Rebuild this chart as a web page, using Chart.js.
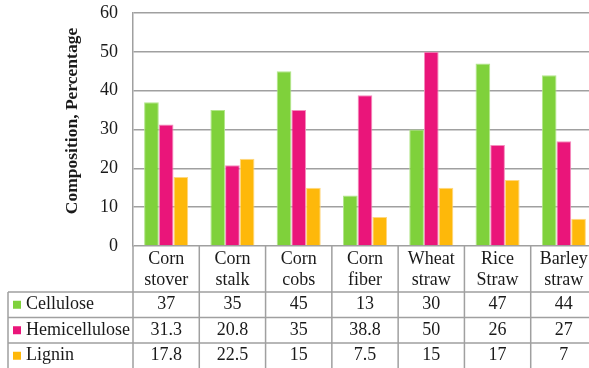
<!DOCTYPE html>
<html>
<head>
<meta charset="utf-8">
<script src="https://cdn.jsdelivr.net/npm/chart.js@4/dist/chart.umd.min.js"></script>
<style>
  html, body { margin: 0; padding: 0; background: #fff; overflow: hidden; }
  #wrap { width: 600px; height: 368px; }
</style>
</head>
<body>
<div id="wrap"><canvas id="c" width="600" height="368"></canvas></div>
<script>
// Biomass feedstocks (two-line category labels)
const categories = [
  ['Corn', 'stover'], ['Corn', 'stalk'], ['Corn', 'cobs'], ['Corn', 'fiber'],
  ['Wheat', 'straw'], ['Rice', 'Straw'], ['Barley', 'straw']
];
const seriesNames = ['Cellulose', 'Hemicellulose', 'Lignin'];
const cellulose     = [37, 35, 45, 13, 30, 47, 44];
const hemicellulose = [31.3, 20.8, 35, 38.8, 50, 26, 27];
const lignin        = [17.8, 22.5, 15, 7.5, 15, 17, 7];
const yTicks = { min: 0, max: 60, step: 10 };

const colors  = ['#7FD13B', '#EA157A', '#FEB80A'];
const borders = ['#B2E68A', '#F48DBD', '#FFD780'];
const seriesValues = [cellulose, hemicellulose, lignin];

const SERIF = '"Liberation Serif", "Times New Roman", serif';
const GRID = '#A0A0A0';
const TEXT = '#1A1A1A';

// Draws the y-axis title and the data table under the plot
const dataTablePlugin = {
  id: 'dataTable',
  afterDraw(chart) {
    const ctx = chart.ctx;
    const x = chart.scales.x;
    const area = chart.chartArea;
    const top = area.bottom;
    const headerH = 46;
    const rowH = 25.5;
    const tableLeft = 8;
    const n = categories.length;
    const colW = (area.right - area.left) / n;
    const rowTops = [top + headerH, top + headerH + rowH, top + headerH + 2 * rowH];
    const tableBottom = top + headerH + 3 * rowH;

    ctx.save();
    // axis title
    ctx.fillStyle = TEXT;
    ctx.font = 'bold 17.5px ' + SERIF;
    ctx.textAlign = 'center';
    ctx.textBaseline = 'middle';
    ctx.translate(72, area.top + 108);
    ctx.rotate(-Math.PI / 2);
    ctx.fillText('Composition, Percentage', 0, 0);
    ctx.restore();

    ctx.save();
    ctx.strokeStyle = GRID;
    ctx.lineWidth = 1.5;
    ctx.beginPath();
    // column separators
    for (let i = 0; i <= n; i++) {
      const cx = i === 0 ? area.left : x.getPixelForValue(i - 1) + colW / 2;
      ctx.moveTo(cx, top);
      ctx.lineTo(cx, tableBottom + 2);
    }
    // row separators
    rowTops.forEach(y => {
      ctx.moveTo(tableLeft, y);
      ctx.lineTo(area.right, y);
    });
    ctx.moveTo(tableLeft, rowTops[0]);
    ctx.lineTo(tableLeft, tableBottom + 2);
    ctx.stroke();

    ctx.fillStyle = TEXT;
    ctx.font = '18px ' + SERIF;
    ctx.textAlign = 'center';
    ctx.textBaseline = 'middle';
    // category headers
    categories.forEach((lines, i) => {
      const cx = x.getPixelForValue(i);
      ctx.fillText(lines[0], cx, top + 13);
      ctx.fillText(lines[1], cx, top + 34);
    });
    // series rows
    seriesValues.forEach((vals, r) => {
      const cy = rowTops[r] + rowH / 2;
      vals.forEach((v, i) => {
        ctx.fillStyle = TEXT;
        ctx.textAlign = 'center';
        ctx.fillText(String(v), x.getPixelForValue(i), cy);
      });
      ctx.fillStyle = colors[r];
      ctx.fillRect(13, cy - 4, 8, 8);
      ctx.fillStyle = TEXT;
      ctx.textAlign = 'left';
      ctx.fillText(seriesNames[r], 26, cy);
    });
    ctx.restore();
  }
};

new Chart(document.getElementById('c'), {
  type: 'bar',
  data: {
    labels: categories,
    datasets: seriesNames.map((name, i) => ({
      label: name,
      data: seriesValues[i],
      backgroundColor: colors[i],
      borderColor: borders[i],
      borderWidth: { top: 1, left: 1, right: 1, bottom: 0 },
      barPercentage: 1,
      categoryPercentage: 0.665
    }))
  },
  options: {
    responsive: false,
    animation: false,
    devicePixelRatio: 1,
    layout: { padding: { top: 13, bottom: 122, left: 0, right: 3 } },
    plugins: { legend: { display: false }, tooltip: { enabled: false } },
    scales: {
      x: { display: false },
      y: {
        min: yTicks.min,
        max: yTicks.max,
        ticks: {
          stepSize: yTicks.step,
          padding: 0,
          color: TEXT,
          font: { family: SERIF, size: 18 }
        },
        grid: {
          color: GRID,
          lineWidth: 1.5,
          drawTicks: true,
          tickLength: 15,
          tickColor: 'rgba(0,0,0,0)'
        },
        border: { display: true, color: GRID, width: 1.5 },
        afterFit(scale) { scale.width = 133; }
      }
    }
  },
  plugins: [dataTablePlugin]
});
</script>
</body>
</html>
